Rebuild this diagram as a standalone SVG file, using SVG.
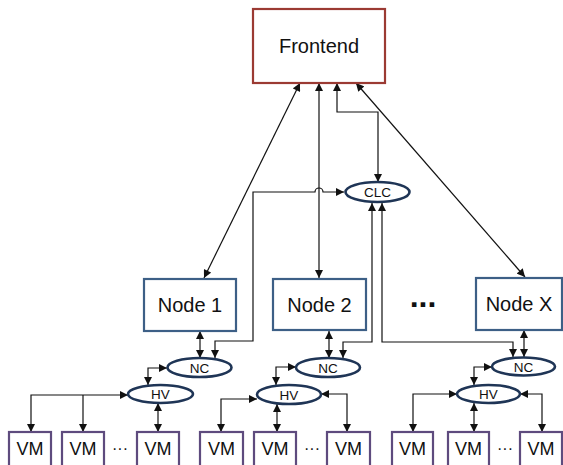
<svg xmlns="http://www.w3.org/2000/svg" width="563" height="465" viewBox="0 0 563 465">
<style>
text{font-family:"Liberation Sans",Arial,sans-serif;fill:#111;text-anchor:middle}
.fe{fill:#fff;stroke:#9b3a33;stroke-width:2.2}
.nd{fill:#fff;stroke:#3d5f86;stroke-width:2.2}
.vm{fill:#fff;stroke:#5e4b7e;stroke-width:2.2}
.el{fill:#fff;stroke:#1f3556;stroke-width:2.6}
.big{font-size:20px}
.sm{font-size:13.5px}
.vmt{font-size:18px}
.c{fill:none;stroke:#111;stroke-width:1.2}
.b{marker-start:url(#a);marker-end:url(#a)}
.e{marker-end:url(#a)}
</style>
<defs>
<marker id="a" viewBox="0 0 10 10" refX="10" refY="5" markerWidth="9" markerHeight="8" markerUnits="userSpaceOnUse" orient="auto-start-reverse">
<path d="M0,0 L10,5 L0,10 z" fill="#111"/>
</marker>
</defs>
<g id="connectors">
<path class="c b" d="M300,83 L204,278"/>
<path class="c b" d="M319,83 L319,278"/>
<path class="c b" d="M337,83 L337,112 L378,112 L378,182"/>
<path class="c b" d="M356,83 L525,277"/>
<path class="c b" d="M344,192 L323,192 A4,4 0 0 0 315,192 L253,192 L253,341 L215,341 L215,358"/>
<path class="c b" d="M372,203 L372,342 L343,342 L343,358"/>
<path class="c b" d="M382,203 L382,342 L513,342 L513,357"/>
<path class="c b" d="M200,331 L200,358"/>
<path class="c b" d="M329,331 L329,358"/>
<path class="c b" d="M524,330 L524,357"/>
<path class="c b" d="M167,368 L148,368 L148,385"/>
<path class="c b" d="M296,367 L276,367 L276,385"/>
<path class="c b" d="M492,367 L474,367 L474,385"/>
<path class="c b" d="M128,395 L31,395 L31,432"/>
<path class="c e" d="M83,395 L83,432"/>
<path class="c b" d="M158,403 L158,432"/>
<path class="c b" d="M257,399 L221,399 L221,432"/>
<path class="c b" d="M277,404 L277,432"/>
<path class="c b" d="M321,394 L347,394 L347,432"/>
<path class="c b" d="M457,394 L413,394 L413,432"/>
<path class="c b" d="M474,403 L474,432"/>
<path class="c b" d="M520,394 L542,394 L542,432"/>
</g>
<g id="frontend"><rect class="fe" x="253" y="9" width="132" height="74"/><text class="big" x="319" y="53">Frontend</text></g>
<g id="clc"><ellipse class="el" cx="377.5" cy="192" rx="32" ry="10"/><text class="sm" x="377.5" y="197">CLC</text></g>
<g id="node1"><rect class="nd" x="144" y="279" width="92" height="52"/><text class="big" x="190" y="312">Node 1</text></g>
<g id="node2"><rect class="nd" x="273" y="279" width="93" height="51"/><text class="big" x="319.5" y="312">Node 2</text></g>
<g id="nodex"><rect class="nd" x="476" y="278" width="86" height="52"/><text class="big" x="519" y="311">Node X</text></g>
<text x="423" y="307" style="font-size:32px;font-weight:bold">...</text>
<g id="nc1"><ellipse class="el" cx="199.5" cy="367.5" rx="32" ry="9.5"/><text class="sm" x="199.5" y="372.5">NC</text></g>
<g id="nc2"><ellipse class="el" cx="328" cy="367.5" rx="32" ry="9.5"/><text class="sm" x="328" y="372.5">NC</text></g>
<g id="ncx"><ellipse class="el" cx="523.5" cy="366.5" rx="31.5" ry="9"/><text class="sm" x="523.5" y="371.5">NC</text></g>
<g id="hv1"><ellipse class="el" cx="160.5" cy="394" rx="32.5" ry="9"/><text class="sm" x="160.5" y="399">HV</text></g>
<g id="hv2"><ellipse class="el" cx="289" cy="394.5" rx="32" ry="9.5"/><text class="sm" x="289" y="399.5">HV</text></g>
<g id="hvx"><ellipse class="el" cx="488.5" cy="394" rx="31.5" ry="9"/><text class="sm" x="488.5" y="399">HV</text></g>
<g id="vm1"><rect class="vm" x="9" y="432" width="42" height="40"/><text class="vmt" x="30" y="455">VM</text></g>
<g id="vm2"><rect class="vm" x="62" y="432" width="42" height="40"/><text class="vmt" x="83" y="455">VM</text></g>
<g id="vm3"><rect class="vm" x="137" y="432" width="42" height="40"/><text class="vmt" x="158" y="455">VM</text></g>
<g id="vm4"><rect class="vm" x="200" y="432" width="43" height="40"/><text class="vmt" x="221.5" y="455">VM</text></g>
<g id="vm5"><rect class="vm" x="254" y="432" width="42" height="40"/><text class="vmt" x="275" y="455">VM</text></g>
<g id="vm6"><rect class="vm" x="327" y="432" width="43" height="40"/><text class="vmt" x="348.5" y="455">VM</text></g>
<g id="vm7"><rect class="vm" x="392" y="432" width="41" height="40"/><text class="vmt" x="412.5" y="455">VM</text></g>
<g id="vm8"><rect class="vm" x="448" y="432" width="41" height="40"/><text class="vmt" x="468.5" y="455">VM</text></g>
<g id="vm9"><rect class="vm" x="520" y="432" width="42" height="40"/><text class="vmt" x="541" y="455">VM</text></g>
<text x="120" y="454" style="font-size:16px">···</text>
<text x="312" y="454" style="font-size:16px">···</text>
<text x="505" y="454" style="font-size:16px">···</text>
</svg>
